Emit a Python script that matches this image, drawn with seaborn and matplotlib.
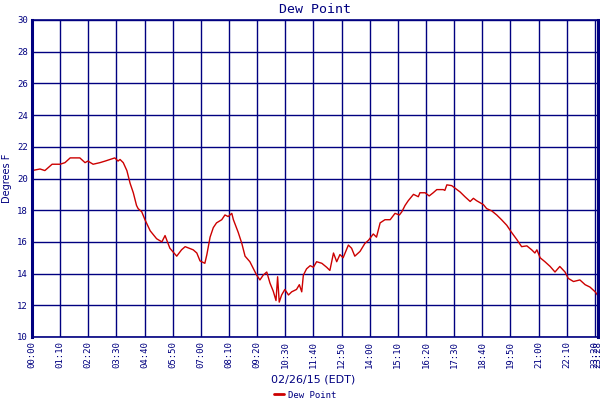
import matplotlib
matplotlib.use("Agg")
import matplotlib.pyplot as plt
import seaborn as sns
import pandas as pd

# minutes after midnight, 02/26/15
minutes = [0, 20, 32, 50, 70, 82, 95, 119, 132, 139, 152, 169, 182, 194, 206, 214, 219,
           227, 236, 244, 252, 260, 264, 273, 281, 294, 310, 323, 331, 343, 360, 372, 381,
           401, 410, 418, 430, 435, 443, 451, 459, 472, 480, 488, 497, 501, 513, 522, 530,
           542, 551, 559, 567, 575, 584, 592, 600, 607, 611, 615, 621, 629, 638, 646, 658,
           665, 671, 675, 683, 692, 700, 708, 721, 733, 741, 750, 758, 766, 774, 787, 795,
           803, 816, 828, 837, 849, 857, 866, 878, 891, 903, 914, 920, 928, 936, 949, 961,
           965, 978, 988, 998, 1007, 1023, 1027, 1032, 1044, 1052, 1065, 1077, 1090, 1098,
           1106, 1123, 1131, 1144, 1156, 1168, 1181, 1193, 1206, 1218, 1231, 1243, 1251,
           1256, 1264, 1276, 1289, 1301, 1313, 1326, 1334, 1347, 1363, 1376, 1388, 1401, 1408]
dew_point = [20.5, 20.6, 20.5, 20.9, 20.9, 21.0, 21.3, 21.3, 21.0, 21.1, 20.9, 21.0, 21.1,
             21.2, 21.3, 21.1, 21.2, 21.0, 20.5, 19.7, 19.1, 18.3, 18.1, 17.9, 17.4, 16.7,
             16.2, 16.0, 16.4, 15.6, 15.1, 15.5, 15.7, 15.5, 15.3, 14.8, 14.65, 15.2, 16.3,
             16.9, 17.2, 17.4, 17.7, 17.6, 17.8, 17.4, 16.6, 15.9, 15.1, 14.75, 14.3, 13.9,
             13.6, 13.9, 14.1, 13.4, 12.9, 12.3, 13.8, 12.2, 12.65, 13.0, 12.65, 12.85, 13.0,
             13.3, 12.85, 13.9, 14.3, 14.5, 14.4, 14.75, 14.65, 14.4, 14.2, 15.3, 14.75, 15.2,
             15.0, 15.8, 15.6, 15.1, 15.4, 15.9, 16.1, 16.5, 16.3, 17.2, 17.4, 17.4, 17.8,
             17.7, 17.9, 18.3, 18.6, 19.0, 18.85, 19.1, 19.1, 18.9, 19.1, 19.3, 19.3, 19.25,
             19.6, 19.55, 19.4, 19.15, 18.85, 18.55, 18.75, 18.6, 18.35, 18.1, 17.95, 17.7,
             17.4, 17.05, 16.6, 16.15, 15.7, 15.75, 15.5, 15.3, 15.5, 15.0, 14.75, 14.45,
             14.1, 14.45, 14.1, 13.7, 13.5, 13.6, 13.3, 13.15, 12.85, 12.6]
x_tick_minutes = [0, 70, 140, 210, 280, 350, 420, 490, 560, 630, 700, 770, 840, 910, 980,
                  1050, 1120, 1190, 1260, 1330, 1400, 1408]
y_ticks = [10, 12, 14, 16, 18, 20, 22, 24, 26, 28, 30]

NAVY = "#000080"
RED = "#cc0000"

sns.set_style("white")
plt.rcParams['font.family'] = ['DejaVu Sans Mono', 'DejaVu Sans']

df = pd.DataFrame({"minute": minutes, "Dew Point": dew_point})

fig = plt.figure(figsize=(6, 4), dpi=100)
ax = fig.add_axes([32 / 600, 63 / 400, 566 / 600, 317 / 400])
sns.lineplot(data=df, x="minute", y="Dew Point", ax=ax, color=RED, linewidth=1.0,
             label="Dew Point", legend=False)

ax.set_xlim(0, minutes[-1])
ax.set_ylim(10, 30)
ax.set_xticks(x_tick_minutes)
ax.set_xticklabels([f"{m // 60:02d}:{m % 60:02d}" for m in x_tick_minutes],
                   rotation=90, fontsize=6.5, color=NAVY)
ax.set_yticks(y_ticks)
ax.set_yticklabels([str(v) for v in y_ticks], fontsize=6.5, color=NAVY)
ax.tick_params(length=0, pad=3)
ax.grid(True, color=NAVY, linewidth=1.0)
ax.set_axisbelow(True)
for side in ["left", "right"]:
    ax.spines[side].set_color(NAVY)
    ax.spines[side].set_linewidth(2.2)
for side in ["top", "bottom"]:
    ax.spines[side].set_color(NAVY)
    ax.spines[side].set_linewidth(1.2)

ax.set_title("Dew Point", color=NAVY, fontsize=9.5, pad=5)
ax.set_ylabel("Degrees F", color=NAVY, fontsize=7, family="DejaVu Sans", labelpad=4)
ax.set_xlabel("")
fig.text(313 / 600, 1 - 380 / 400, "02/26/15 (EDT)", color=NAVY, fontsize=8,
         family="DejaVu Sans", ha="center", va="center")

handles, labels = ax.get_legend_handles_labels()
leg = fig.legend(handles, labels, loc="center", bbox_to_anchor=(305 / 600, 1 - 395 / 400),
                 frameon=False, fontsize=6.5, handlelength=1.2, handletextpad=0.4,
                 borderpad=0)
for t in leg.get_texts():
    t.set_color(NAVY)
for l in leg.get_lines():
    l.set_linewidth(2)

fig.savefig("out.png", dpi=100, facecolor="white")
